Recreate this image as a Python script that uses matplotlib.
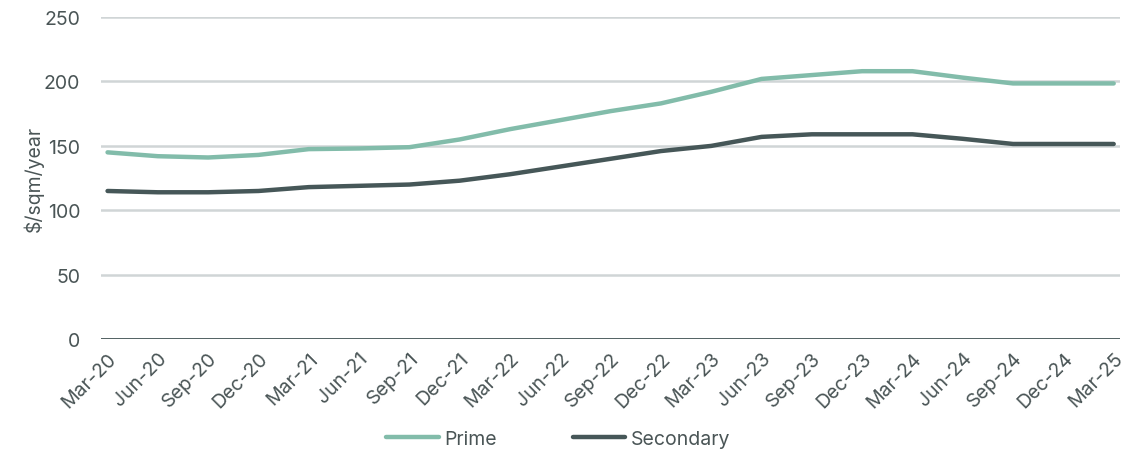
import matplotlib.pyplot as plt
import numpy as np

plt.rcParams['font.family'] = ['Inter', 'DejaVu Sans']

quarters = ['Mar-20', 'Jun-20', 'Sep-20', 'Dec-20', 'Mar-21', 'Jun-21', 'Sep-21',
            'Dec-21', 'Mar-22', 'Jun-22', 'Sep-22', 'Dec-22', 'Mar-23', 'Jun-23',
            'Sep-23', 'Dec-23', 'Mar-24', 'Jun-24', 'Sep-24', 'Dec-24', 'Mar-25']
prime = [145, 142, 141, 143, 147.5, 148, 149, 155, 163, 170, 177, 183, 192, 202,
         205, 208, 208, 203, 198.5, 198.5, 198.5]
secondary = [115, 114, 114, 115, 118, 119, 120, 123, 128, 134, 140, 146, 150, 157,
             159, 159, 159, 155.5, 151.5, 151.5, 151.5]

text_col = '#4a5556'
prime_col = '#82bcaa'
sec_col = '#465758'

fig = plt.figure(figsize=(11.35, 4.64), dpi=100)
ax = fig.add_axes([0.089, 0.267, 0.898, 0.694])

x = np.arange(len(quarters))
ax.plot(x, prime, color=prime_col, lw=3.2, solid_capstyle='round', label='Prime')
ax.plot(x, secondary, color=sec_col, lw=3.2, solid_capstyle='round', label='Secondary')

ax.set_ylim(0, 250)
ax.set_xlim(-0.13, 20.13)
ax.set_yticks(range(0, 251, 50))
ax.grid(axis='y', color='#d0d5d6', lw=1.8)
ax.set_axisbelow(True)
ax.axhline(0, color=sec_col, lw=2, zorder=1.5)
for s in ax.spines.values():
    s.set_visible(False)

ax.set_xticks(x)
ax.set_xticklabels(quarters, rotation=45, ha='right', rotation_mode='anchor')
ax.tick_params(axis='both', length=0, labelsize=14, labelcolor=text_col)
ax.tick_params(axis='x', pad=7)
ax.tick_params(axis='y', pad=15)
ax.set_ylabel('$/sqm/year', color=text_col, fontsize=14, labelpad=0)

fig.legend(loc='lower center', bbox_to_anchor=(0.492, -0.005), ncol=2, frameon=False,
           fontsize=14, labelcolor=text_col, handlelength=2.7, handletextpad=0.3,
           columnspacing=3.9)

plt.savefig('out.png', dpi=100)
